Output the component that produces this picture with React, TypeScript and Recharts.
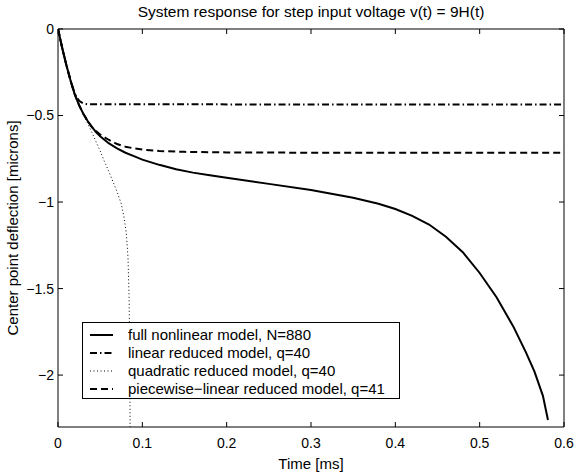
import React from 'react';
import { LineChart, Line, XAxis, YAxis, Legend, Label } from 'recharts';

const FONT = '"Liberation Sans", Arial, Helvetica, sans-serif';

const fullModel = [
  { t: 0, v: 0 }, { t: 0.0025, v: -0.055 }, { t: 0.005, v: -0.11 }, { t: 0.0075, v: -0.16 },
  { t: 0.01, v: -0.21 }, { t: 0.0125, v: -0.255 }, { t: 0.015, v: -0.3 }, { t: 0.0175, v: -0.34 },
  { t: 0.02, v: -0.38 }, { t: 0.025, v: -0.44 }, { t: 0.03, v: -0.49 }, { t: 0.035, v: -0.53 },
  { t: 0.04, v: -0.565 }, { t: 0.045, v: -0.595 }, { t: 0.05, v: -0.62 }, { t: 0.06, v: -0.66 },
  { t: 0.07, v: -0.69 }, { t: 0.08, v: -0.715 }, { t: 0.09, v: -0.735 }, { t: 0.1, v: -0.755 },
  { t: 0.12, v: -0.785 }, { t: 0.14, v: -0.81 }, { t: 0.16, v: -0.83 }, { t: 0.18, v: -0.845 },
  { t: 0.2, v: -0.86 }, { t: 0.25, v: -0.895 }, { t: 0.3, v: -0.93 }, { t: 0.35, v: -0.975 },
  { t: 0.38, v: -1.01 }, { t: 0.4, v: -1.04 }, { t: 0.42, v: -1.08 }, { t: 0.44, v: -1.13 },
  { t: 0.46, v: -1.2 }, { t: 0.48, v: -1.29 }, { t: 0.5, v: -1.41 }, { t: 0.52, v: -1.55 },
  { t: 0.54, v: -1.72 }, { t: 0.555, v: -1.87 }, { t: 0.565, v: -1.98 }, { t: 0.575, v: -2.12 },
  { t: 0.581, v: -2.26 },
];

const linearModel = [
  { t: 0, v: 0 }, { t: 0.005, v: -0.11 }, { t: 0.01, v: -0.21 }, { t: 0.015, v: -0.3 },
  { t: 0.02, v: -0.375 }, { t: 0.025, v: -0.415 }, { t: 0.03, v: -0.43 }, { t: 0.035, v: -0.435 },
  { t: 0.6, v: -0.437 },
];

const quadraticModel = [
  { t: 0, v: 0 }, { t: 0.005, v: -0.11 }, { t: 0.01, v: -0.21 }, { t: 0.015, v: -0.3 },
  { t: 0.02, v: -0.38 }, { t: 0.025, v: -0.44 }, { t: 0.03, v: -0.49 }, { t: 0.035, v: -0.545 },
  { t: 0.04, v: -0.595 }, { t: 0.045, v: -0.65 }, { t: 0.05, v: -0.705 }, { t: 0.055, v: -0.765 },
  { t: 0.06, v: -0.82 }, { t: 0.065, v: -0.88 }, { t: 0.07, v: -0.94 }, { t: 0.075, v: -1.01 },
  { t: 0.078, v: -1.08 }, { t: 0.081, v: -1.18 }, { t: 0.083, v: -1.32 }, { t: 0.0843, v: -1.55 },
  { t: 0.0851, v: -1.9 }, { t: 0.0856, v: -2.4 },
];

const pwlModel = [
  { t: 0, v: 0 }, { t: 0.005, v: -0.11 }, { t: 0.01, v: -0.21 }, { t: 0.015, v: -0.3 },
  { t: 0.02, v: -0.38 }, { t: 0.025, v: -0.44 }, { t: 0.03, v: -0.49 }, { t: 0.035, v: -0.53 },
  { t: 0.04, v: -0.565 }, { t: 0.045, v: -0.59 }, { t: 0.05, v: -0.61 }, { t: 0.06, v: -0.64 },
  { t: 0.07, v: -0.665 }, { t: 0.08, v: -0.68 }, { t: 0.09, v: -0.69 }, { t: 0.1, v: -0.697 },
  { t: 0.12, v: -0.705 }, { t: 0.15, v: -0.71 }, { t: 0.2, v: -0.713 }, { t: 0.3, v: -0.715 },
  { t: 0.6, v: -0.715 },
];

const xTicks = [0, 0.1, 0.2, 0.3, 0.4, 0.5, 0.6];
const yTicks = [-2, -1.5, -1, -0.5, 0];

const titleText = 'System response for step input voltage v(t) = 9H(t)';
const xLabelText = 'Time [ms]';
const yLabelText = 'Center point deflection [microns]';

const seriesNames = [
  'full nonlinear model, N=880',
  'linear reduced model, q=40',
  'quadratic reduced model, q=40',
  'piecewise\u2212linear reduced model, q=41',
];

const seriesStyles = [
  { dash: undefined as string | undefined, width: 2 },
  { dash: '7 3 1.5 3', width: 2 },
  { dash: '1 2.5', width: 1 },
  { dash: '7 4', width: 2 },
];

const fmt = (v: number) => (v < 0 ? '\u2212' + String(Math.abs(v)) : String(v));

const LegendBox = () => (
  <div
    style={{
      boxSizing: 'border-box',
      width: 318,
      border: '1px solid #000',
      background: '#fff',
      padding: '3px 0 0 7px',
      height: 77,
      fontFamily: FONT,
      fontSize: 15,
      color: '#000',
      whiteSpace: 'nowrap',
    }}
  >
    {seriesNames.map((name, i) => (
      <div key={name} style={{ display: 'flex', alignItems: 'center', height: 18 }}>
        <svg width={38} height={10} style={{ flex: 'none' }}>
          <line
            x1={0}
            x2={23}
            y1={5}
            y2={5}
            stroke="#000"
            strokeWidth={seriesStyles[i].width}
            strokeDasharray={seriesStyles[i].dash}
          />
        </svg>
        <span style={{ lineHeight: '18px' }}>{name}</span>
      </div>
    ))}
  </div>
);

const tickStyle = { fill: '#000', fontSize: 14, fontFamily: FONT };

export default function App() {
  return (
    <div style={{ position: 'absolute', left: 0, top: 0, width: 577, height: 473, background: '#fff' }}>
      <LineChart width={577} height={473} margin={{ top: 0, right: 0, bottom: 0, left: 0 }}>
        <XAxis
          xAxisId="b"
          type="number"
          dataKey="t"
          domain={[0, 0.6]}
          ticks={xTicks}
          orientation="bottom"
          height={46}
          tickSize={-5}
          tickMargin={16}
          tick={tickStyle}
          tickFormatter={fmt}
          axisLine={{ stroke: '#000', strokeWidth: 1 }}
          tickLine={{ stroke: '#000' }}
          allowDataOverflow
        >
          <Label
            content={(props: any) => {
              const vb = props.viewBox || {};
              return (
                <text
                  x={vb.x + vb.width / 2}
                  y={vb.y + vb.height - 4}
                  textAnchor="middle"
                  fontFamily={FONT}
                  fontSize={15}
                  fill="#000"
                >
                  {xLabelText}
                </text>
              );
            }}
          />
        </XAxis>
        <XAxis
          xAxisId="t"
          type="number"
          dataKey="t"
          domain={[0, 0.6]}
          ticks={xTicks}
          orientation="top"
          height={29}
          tickSize={-5}
          tickFormatter={() => ''}
          axisLine={{ stroke: '#000', strokeWidth: 1 }}
          tickLine={{ stroke: '#000' }}
          allowDataOverflow
        >
          <Label
            content={(props: any) => {
              const vb = props.viewBox || {};
              return (
                <text
                  x={vb.x + vb.width / 2}
                  y={17}
                  textAnchor="middle"
                  fontFamily={FONT}
                  fontSize={15.5}
                  fill="#000"
                >
                  {titleText}
                </text>
              );
            }}
          />
        </XAxis>
        <YAxis
          yAxisId="l"
          type="number"
          domain={[-2.3, 0]}
          ticks={yTicks}
          orientation="left"
          width={58}
          tickSize={-5}
          tickMargin={9}
          tick={tickStyle}
          tickFormatter={fmt}
          axisLine={{ stroke: '#000', strokeWidth: 1 }}
          tickLine={{ stroke: '#000' }}
          allowDataOverflow
        >
          <Label
            content={(props: any) => {
              const vb = props.viewBox || {};
              const cx = 12;
              const cy = vb.y + vb.height / 2;
              return (
                <text
                  x={cx}
                  y={cy}
                  transform={`rotate(-90, ${cx}, ${cy})`}
                  textAnchor="middle"
                  dominantBaseline="central"
                  fontFamily={FONT}
                  fontSize={15}
                  fill="#000"
                >
                  {yLabelText}
                </text>
              );
            }}
          />
        </YAxis>
        <YAxis
          yAxisId="r"
          type="number"
          domain={[-2.3, 0]}
          ticks={yTicks}
          orientation="right"
          width={13}
          tickSize={-5}
          tickFormatter={() => ''}
          axisLine={{ stroke: '#000', strokeWidth: 1 }}
          tickLine={{ stroke: '#000' }}
          allowDataOverflow
        />
        <Legend
          layout="vertical"
          align="center"
          verticalAlign="middle"
          content={() => <LegendBox />}
          wrapperStyle={{ left: 82, top: 322, width: 'auto', height: 'auto' }}
        />
        <Line
          xAxisId="b" yAxisId="l" data={quadraticModel} dataKey="v" type="linear"
          stroke="#000" strokeWidth={seriesStyles[2].width} strokeDasharray={seriesStyles[2].dash}
          dot={false} activeDot={false} isAnimationActive={false} name={seriesNames[2]}
        />
        <Line
          xAxisId="b" yAxisId="l" data={linearModel} dataKey="v" type="linear"
          stroke="#000" strokeWidth={seriesStyles[1].width} strokeDasharray={seriesStyles[1].dash}
          dot={false} activeDot={false} isAnimationActive={false} name={seriesNames[1]}
        />
        <Line
          xAxisId="b" yAxisId="l" data={pwlModel} dataKey="v" type="linear"
          stroke="#000" strokeWidth={seriesStyles[3].width} strokeDasharray={seriesStyles[3].dash}
          dot={false} activeDot={false} isAnimationActive={false} name={seriesNames[3]}
        />
        <Line
          xAxisId="b" yAxisId="l" data={fullModel} dataKey="v" type="linear"
          stroke="#000" strokeWidth={seriesStyles[0].width}
          dot={false} activeDot={false} isAnimationActive={false} name={seriesNames[0]}
        />
      </LineChart>
    </div>
  );
}
